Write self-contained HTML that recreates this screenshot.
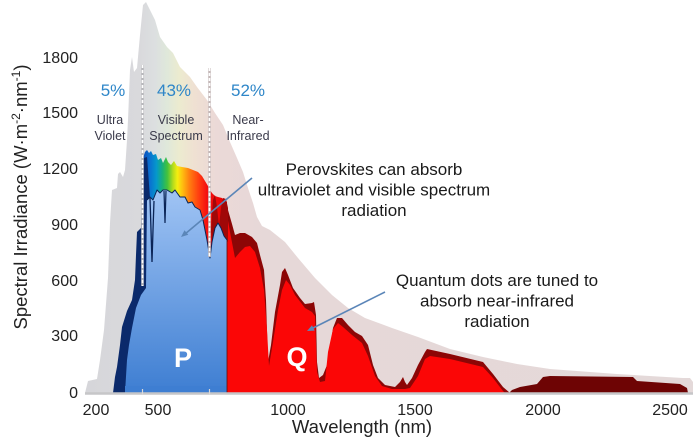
<!DOCTYPE html>
<html>
<head>
<meta charset="utf-8">
<style>
  html,body{margin:0;padding:0;background:#fff;}
  svg{display:block;}
  text{font-family:"Liberation Sans", Arial, sans-serif;}
</style>
</head>
<body>
<svg width="700" height="448" viewBox="0 0 700 448" xmlns="http://www.w3.org/2000/svg">
  <defs>
    <linearGradient id="env" gradientUnits="userSpaceOnUse" x1="85" y1="0" x2="693" y2="0">
      <stop offset="0" stop-color="#d6d6da"/>
      <stop offset="0.09" stop-color="#d9d9dc"/>
      <stop offset="0.115" stop-color="#dcdfe0"/>
      <stop offset="0.135" stop-color="#dfe8da"/>
      <stop offset="0.155" stop-color="#ecebcf"/>
      <stop offset="0.18" stop-color="#efe0d2"/>
      <stop offset="0.215" stop-color="#ebd9d7"/>
      <stop offset="0.30" stop-color="#e6d8d8"/>
      <stop offset="1" stop-color="#e4d9d9"/>
    </linearGradient>
    <linearGradient id="rainbow" gradientUnits="userSpaceOnUse" x1="143" y1="0" x2="227" y2="0">
      <stop offset="0" stop-color="#0a4cb8"/>
      <stop offset="0.08" stop-color="#0a70d0"/>
      <stop offset="0.16" stop-color="#0598cc"/>
      <stop offset="0.23" stop-color="#18b07a"/>
      <stop offset="0.29" stop-color="#44c23c"/>
      <stop offset="0.36" stop-color="#b8dc1c"/>
      <stop offset="0.41" stop-color="#f4ee10"/>
      <stop offset="0.47" stop-color="#ffbe10"/>
      <stop offset="0.55" stop-color="#ff8010"/>
      <stop offset="0.66" stop-color="#ff4010"/>
      <stop offset="0.76" stop-color="#f41010"/>
      <stop offset="1" stop-color="#e80000"/>
    </linearGradient>
    <linearGradient id="blue" gradientUnits="userSpaceOnUse" x1="0" y1="190" x2="0" y2="393">
      <stop offset="0" stop-color="#a0c4f4"/>
      <stop offset="1" stop-color="#3e7ed2"/>
    </linearGradient>
  </defs>

  <rect x="0" y="0" width="700" height="448" fill="#ffffff"/>

  <!-- extraterrestrial envelope -->
  <polygon fill="url(#env)" points="85,393 88,381 97,379 100,360 104,330 107,291 108,278 110,223 112,190 117,188 118,174 120,172 123,177 125,170 127,140 128,120 130,70 132,57 134,72 137,68 140,35 143,5 146,2 150,10 155,20 160,37 167,47 173,53 180,67 190,77 197,87 207,100 215,113 223,125 230,142 237,158 243,172 248,188 253,203 257,217 262,226 270,230 280,238 285,242 298,258 315,278 332,295 348,308 365,318 392,328 418,337 450,349 483,357 517,364 550,369 617,374 683,378 690,378 693,382 693,393"/>

  <!-- rainbow visible band -->
  <polygon fill="url(#rainbow)" points="143,158 145,152 147,150 149,153 151,151 153,155 156,154 158,160 161,158 163,163 166,157 168,162 171,165 174,161 177,166 182,167 188,168 193,170 198,172 202,176 205,181 208,186 210,190 212,193 215,196 218,197 222,198 227,202 227,260 143,262"/>

  <!-- Q dark red band -->
  <polygon fill="#8c0606" points="223,200 228,210 232,224 235,235 240,233 245,233 252,237 257,243 260,255 264,270 266,300 268,362 271,345 275,312 280,285 282,272 285,268 288,275 293,288 300,298 305,304 312,303 314,302 316,315 317,362 319,378 323,375 327,365 330,350 333,328 337,318 342,318 348,325 355,332 362,336 368,345 373,365 378,378 385,385 395,387 400,382 403,377 405,382 407,385 412,378 418,365 425,352 427,349 450,354 483,362 493,374 503,387 510,393 227,393"/>
  <!-- Q bright red -->
  <polygon fill="#fb0606" points="227,215 230,232 235,258 240,252 245,247 250,246 255,252 260,268 264,290 267,330 269,366 273,342 278,310 282,290 286,280 290,285 295,295 305,308 312,312 315,316 317,372 320,382 325,381 328,352 333,329 338,323 343,327 352,335 362,343 368,356 375,376 382,386 392,389 405,389 410,388 418,376 425,359 430,356 450,359 483,367 493,378 503,391 505,393 227,393"/>
  <!-- far right dark tail -->
  <polygon fill="#6e0404" points="509,393 512,390 520,387 537,384 543,377 550,376 633,377 637,381 680,384 687,388 688,393"/>

  <!-- dark red spikes near 700nm -->
  <polygon fill="#a00808" points="211,230 213,200 215,195 217,207 219,226 221,208 223,198 226,199 228,208 228,242 224,236 221,229 218,224 215,229 212,244"/>

  <!-- navy UV region (extends under blue) -->
  <polygon fill="#0b2a6b" points="113,393 115,377 117,367 120,345 122,327 127,311 132,300 135,280 136,255 137,232 141,228 142,195 142,165 144,158 147,157 150,198 152,300 150,393"/>

  <!-- P light blue -->
  <polygon fill="url(#blue)" points="125,393 127,360 129,345 132,328 136,308 141,295 146,288 147,200 150,197 153,200 157,190 160,193 163,190 167,190 172,193 175,190 180,197 185,197 188,203 192,202 195,207 200,210 203,220 207,240 210,258 212,242 215,228 218,223 221,228 224,236 227,240 227,393"/>
  <polyline fill="none" stroke="#0a2456" stroke-width="1" stroke-linejoin="round" points="147,200 150,197 153,200 157,190 160,193 163,190 167,190 172,193 175,190 180,197 185,197 188,203 192,202 195,207 200,210 203,220 207,240 210,258 212,242 215,228 218,223 221,228 224,236 227,240"/>
  <rect x="125" y="386" width="102" height="7" fill="#3e7ed2"/>
  <!-- navy spikes inside blue -->
  <polyline fill="none" stroke="#0a2456" stroke-width="1.3" points="150,198 151,230 152,262 153,230 154,201"/>
  <polyline fill="none" stroke="#0a2456" stroke-width="1.2" points="164,191 165,223 166,191"/>
  <line x1="227" y1="240" x2="227" y2="393" stroke="#5a1010" stroke-width="0.8"/>

  <!-- dashed boundaries -->
  <line x1="142.5" y1="65" x2="142.5" y2="286" stroke="#b8b8bc" stroke-width="2.6"/>
  <line x1="142.5" y1="65" x2="142.5" y2="286" stroke="#ffffff" stroke-width="1.6" stroke-dasharray="3,2"/>
  <line x1="209.5" y1="68" x2="209.5" y2="257" stroke="#c4b8b8" stroke-width="2.6"/>
  <line x1="209.5" y1="68" x2="209.5" y2="257" stroke="#ffffff" stroke-width="1.6" stroke-dasharray="3,2"/>

  <!-- baseline -->
  <line x1="85" y1="393.5" x2="693" y2="393.5" stroke="#c6c6c8" stroke-width="2.5"/>
  <line x1="142.5" y1="389" x2="142.5" y2="395" stroke="#d8d8d8" stroke-width="1.2"/>
  <line x1="209.5" y1="389" x2="209.5" y2="395" stroke="#d8d8d8" stroke-width="1.2"/>

  <!-- arrows -->
  <line x1="252" y1="178" x2="185" y2="234" stroke="#5b86b8" stroke-width="1.6"/>
  <polygon fill="#5b86b8" points="181,237 188.3,234.8 184.5,230.2"/>
  <line x1="385" y1="292" x2="311" y2="329" stroke="#5b86b8" stroke-width="1.6"/>
  <polygon fill="#5b86b8" points="307,331 314.6,330.6 312,325.2"/>

  <!-- P / Q labels -->
  <text x="183" y="367" font-size="27" font-weight="bold" fill="#ffffff" text-anchor="middle">P</text>
  <text x="297" y="366" font-size="27" font-weight="bold" fill="#ffffff" text-anchor="middle">Q</text>

  <!-- percentages -->
  <text x="113" y="96" font-size="17" fill="#2e86c8" text-anchor="middle">5%</text>
  <text x="174" y="96" font-size="17" fill="#2e86c8" text-anchor="middle">43%</text>
  <text x="248" y="96" font-size="17" fill="#2e86c8" text-anchor="middle">52%</text>

  <g font-size="12.5" fill="#3a3a4a" text-anchor="middle">
    <text x="110" y="124">Ultra</text>
    <text x="110" y="140">Violet</text>
    <text x="176" y="124">Visible</text>
    <text x="176" y="140">Spectrum</text>
    <text x="248" y="124">Near-</text>
    <text x="248" y="140">Infrared</text>
  </g>

  <!-- annotations -->
  <g font-size="17" fill="#1a1a1a" text-anchor="middle">
    <text x="374" y="175">Perovskites can absorb</text>
    <text x="374" y="195.5">ultraviolet and visible spectrum</text>
    <text x="374" y="216">radiation</text>
    <text x="497" y="286">Quantum dots are tuned to</text>
    <text x="497" y="306.5">absorb near-infrared</text>
    <text x="497" y="327">radiation</text>
  </g>

  <!-- y tick labels -->
  <g font-size="16" fill="#222" text-anchor="end">
    <text x="78" y="63">1800</text>
    <text x="78" y="118">1500</text>
    <text x="78" y="174">1200</text>
    <text x="78" y="230">900</text>
    <text x="78" y="286">600</text>
    <text x="78" y="341">300</text>
    <text x="78" y="398">0</text>
  </g>

  <!-- x tick labels -->
  <g font-size="16" fill="#222" text-anchor="middle">
    <text x="96" y="415">200</text>
    <text x="158" y="415">500</text>
    <text x="288" y="415">1000</text>
    <text x="415" y="415">1500</text>
    <text x="543" y="415">2000</text>
    <text x="670" y="415">2500</text>
  </g>

  <!-- axis titles -->
  <text x="362" y="433" font-size="18.5" fill="#222" text-anchor="middle">Wavelength (nm)</text>
  <text transform="translate(27,197) rotate(-90)" font-size="18.5" fill="#222" text-anchor="middle">Spectral Irradiance (W·m<tspan font-size="12" dy="-7">-2</tspan><tspan dy="7">·nm</tspan><tspan font-size="12" dy="-7">-1</tspan><tspan dy="7">)</tspan></text>
</svg>
</body>
</html>
